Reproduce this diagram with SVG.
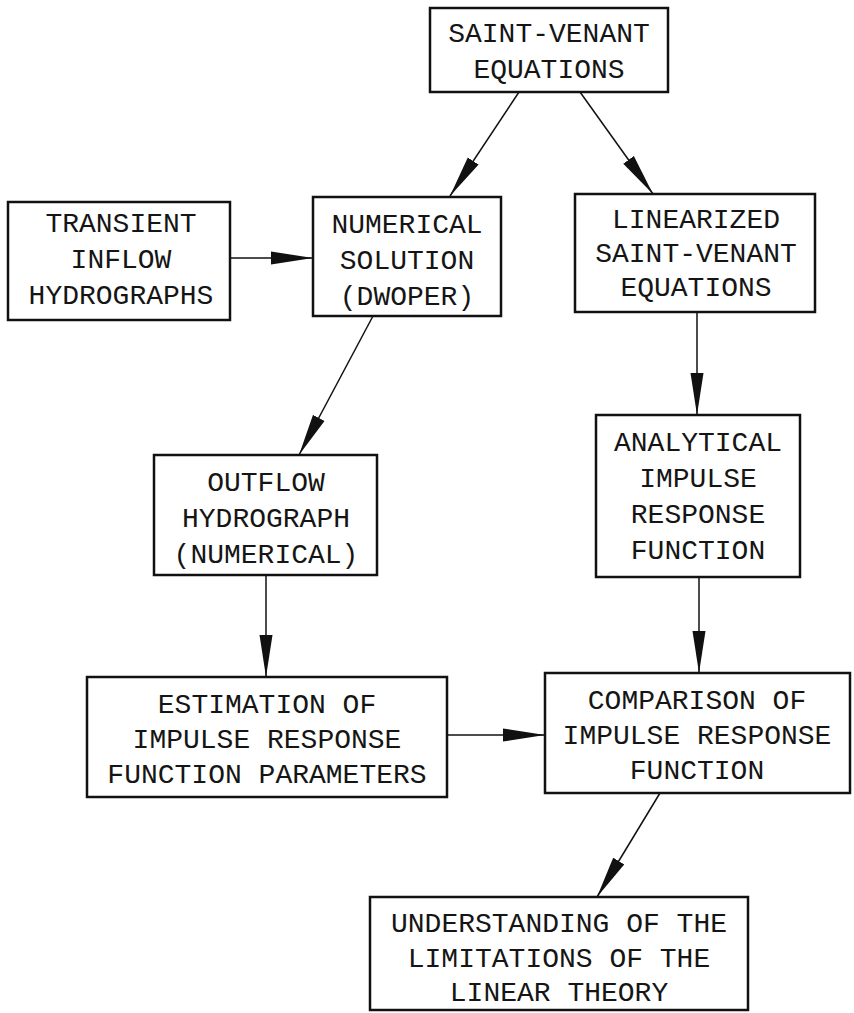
<svg xmlns="http://www.w3.org/2000/svg" width="854" height="1013" viewBox="0 0 854 1013">
  <style>
    .box { fill: #ffffff; stroke: #111111; stroke-width: 2.5; }
    .lbl { font-family: "Liberation Mono", "DejaVu Sans Mono", monospace; font-size: 28px; fill: #151515; text-anchor: middle; }
    .wire { fill: none; stroke: #111111; stroke-width: 1.5; marker-end: url(#head); }
  </style>
  <defs>
    <marker id="head" viewBox="0 0 42 14" markerWidth="42" markerHeight="14" refX="42" refY="7" orient="auto" markerUnits="userSpaceOnUse">
      <path d="M0,0.5 L42,7 L0,13.5 Z" fill="#111111"/>
    </marker>
  </defs>
  <rect width="854" height="1013" fill="#ffffff"/>

  <g id="connectors">
    <line class="wire" x1="519" y1="92" x2="450" y2="196"/>
    <line class="wire" x1="580" y1="92" x2="653" y2="194"/>
    <line class="wire" x1="230" y1="258" x2="313" y2="258"/>
    <line class="wire" x1="373" y1="316" x2="299" y2="455"/>
    <line class="wire" x1="697" y1="312" x2="697" y2="415"/>
    <line class="wire" x1="266" y1="575" x2="266" y2="677"/>
    <line class="wire" x1="699" y1="577" x2="699" y2="673"/>
    <line class="wire" x1="447" y1="735" x2="545" y2="735"/>
    <line class="wire" x1="660" y1="793" x2="597" y2="897" stroke="#555555" stroke-width="1"/>
  </g>

  <g id="saint-venant">
    <rect class="box" x="430" y="8" width="238" height="84"/>
    <text class="lbl" x="549" y="42">SAINT-VENANT</text>
    <text class="lbl" x="549" y="78">EQUATIONS</text>
  </g>

  <g id="transient-inflow">
    <rect class="box" x="8" y="202" width="222" height="118"/>
    <text class="lbl" x="121" y="232">TRANSIENT</text>
    <text class="lbl" x="121" y="268">INFLOW</text>
    <text class="lbl" x="121" y="304">HYDROGRAPHS</text>
  </g>

  <g id="numerical-solution">
    <rect class="box" x="313" y="197" width="188" height="119"/>
    <text class="lbl" x="407" y="233">NUMERICAL</text>
    <text class="lbl" x="407" y="269">SOLUTION</text>
    <text class="lbl" x="407" y="305">(DWOPER)</text>
  </g>

  <g id="linearized">
    <rect class="box" x="575" y="194" width="240" height="118"/>
    <text class="lbl" x="696" y="228">LINEARIZED</text>
    <text class="lbl" x="696" y="262">SAINT-VENANT</text>
    <text class="lbl" x="696" y="296">EQUATIONS</text>
  </g>

  <g id="outflow">
    <rect class="box" x="154" y="455" width="223" height="120"/>
    <text class="lbl" x="266" y="491">OUTFLOW</text>
    <text class="lbl" x="266" y="527">HYDROGRAPH</text>
    <text class="lbl" x="266" y="563">(NUMERICAL)</text>
  </g>

  <g id="analytical">
    <rect class="box" x="596" y="415" width="204" height="162"/>
    <text class="lbl" x="698" y="451">ANALYTICAL</text>
    <text class="lbl" x="698" y="487">IMPULSE</text>
    <text class="lbl" x="698" y="523">RESPONSE</text>
    <text class="lbl" x="698" y="559">FUNCTION</text>
  </g>

  <g id="estimation">
    <rect class="box" x="87" y="677" width="360" height="120"/>
    <text class="lbl" x="267" y="713">ESTIMATION OF</text>
    <text class="lbl" x="267" y="748">IMPULSE RESPONSE</text>
    <text class="lbl" x="267" y="783">FUNCTION PARAMETERS</text>
  </g>

  <g id="comparison">
    <rect class="box" x="545" y="673" width="305" height="120"/>
    <text class="lbl" x="697" y="709">COMPARISON OF</text>
    <text class="lbl" x="697" y="744">IMPULSE RESPONSE</text>
    <text class="lbl" x="697" y="779">FUNCTION</text>
  </g>

  <g id="understanding">
    <rect class="box" x="370" y="897" width="378" height="113"/>
    <text class="lbl" x="559" y="932">UNDERSTANDING OF THE</text>
    <text class="lbl" x="559" y="967">LIMITATIONS OF THE</text>
    <text class="lbl" x="559" y="1001">LINEAR THEORY</text>
  </g>
</svg>
